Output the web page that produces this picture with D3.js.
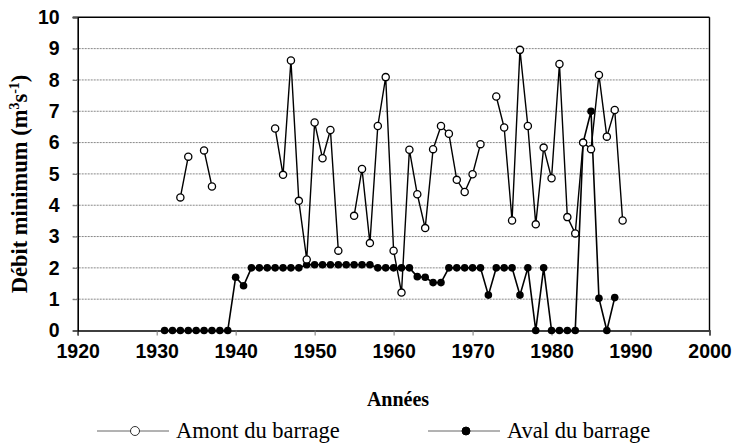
<!DOCTYPE html>
<html>
<head>
<meta charset="utf-8">
<script src="https://cdn.jsdelivr.net/npm/d3@7"></script>
<style>
  body { margin: 0; background: #fff; }
  svg { display: block; }
  .serif { font-family: "Liberation Serif", "DejaVu Serif", "Times New Roman", serif; }
  .sans { font-family: "Liberation Sans", Arial, sans-serif; }
</style>
</head>
<body>
<div id="chart"></div>
<script>
// years 1931..1989
const years = d3.range(1931, 1990);

// upstream of the dam (open circles), null = no data
const amont = [
  null, null, 4.25, 5.55, null, 5.75, 4.6, null, null,   // 1931-1939
  null, null, null, null, null, 6.45, 4.97, 8.62, 4.14, 2.27, // 1940-1949
  6.64, 5.5, 6.4, 2.55, null, 3.66, 5.16, 2.79, 6.53, 8.09,  // 1950-1959
  2.55, 1.21, 5.77, 4.35, 3.27, 5.79, 6.53, 6.28, 4.81, 4.42, // 1960-1969
  4.99, 5.95, null, 7.47, 6.48, 3.51, 8.96, 6.53, 3.39, 5.84, // 1970-1979
  4.86, 8.51, 3.62, 3.1, 6.0, 5.79, 8.16, 6.19, 7.04, 3.51   // 1980-1989
];

// downstream of the dam (filled circles)
const aval = [
  0, 0, 0, 0, 0, 0, 0, 0, 0,                          // 1931-1939
  1.7, 1.43, 2.0, 2.0, 2.0, 2.0, 2.0, 2.0, 2.0, 2.1,  // 1940-1949
  2.1, 2.1, 2.1, 2.1, 2.1, 2.1, 2.1, 2.1, 2.0, 2.0,   // 1950-1959
  2.0, 2.0, 2.0, 1.72, 1.7, 1.53, 1.53, 2.0, 2.0, 2.0, // 1960-1969
  2.0, 2.0, 1.13, 2.0, 2.0, 2.0, 1.13, 2.0, 0, 2.0,   // 1970-1979
  0, 0, 0, 0, 6.0, 7.0, 1.03, 0, 1.05, null           // 1980-1989
];

const xTicks = [1920, 1930, 1940, 1950, 1960, 1970, 1980, 1990, 2000];
const yTicks = [0, 1, 2, 3, 4, 5, 6, 7, 8, 9, 10];

const width = 735, height = 448;
const margin = { top: 17.3, right: 25.5, bottom: 117.5, left: 77.7 };
const w = width - margin.left - margin.right;
const h = height - margin.top - margin.bottom;

const svg = d3.select("#chart").append("svg")
  .attr("width", width)
  .attr("height", height);

const g = svg.append("g")
  .attr("transform", `translate(${margin.left},${margin.top})`);

const x = d3.scaleLinear().domain([1920, 2000]).range([0, w]);
const y = d3.scaleLinear().domain([0, 10]).range([h, 0]);

// horizontal grid
g.append("g")
  .selectAll("line")
  .data(yTicks.filter(d => d > 0 && d < 10))
  .join("line")
  .attr("x1", -5).attr("x2", w)
  .attr("y1", d => y(d)).attr("y2", d => y(d))
  .attr("stroke", "#888")
  .attr("stroke-width", 1)
  .attr("stroke-dasharray", "2,1");

// frame top / right
g.append("line").attr("x1", -5).attr("x2", w).attr("y1", 0).attr("y2", 0)
  .attr("stroke", "#000").attr("stroke-width", 1.6);
g.append("line").attr("x1", w).attr("x2", w).attr("y1", 0).attr("y2", h)
  .attr("stroke", "#000").attr("stroke-width", 1.4);

// x axis
const xAxis = g.append("g")
  .attr("transform", `translate(0,${h})`)
  .call(d3.axisBottom(x).tickValues(xTicks).tickFormat(d3.format("d")).tickSize(5).tickPadding(9));
xAxis.select(".domain").attr("stroke", "#000").attr("stroke-width", 1.6);
xAxis.selectAll(".tick line").attr("stroke", "#777");
xAxis.selectAll("text")
  .attr("class", "sans")
  .style("font-weight", "bold")
  .style("font-size", "19.5px")
  .attr("fill", "#000");

// y axis
const yAxis = g.append("g")
  .call(d3.axisLeft(y).tickValues(yTicks).tickSize(5).tickPadding(13));
yAxis.select(".domain").attr("stroke", "#000").attr("stroke-width", 1.6);
yAxis.selectAll(".tick line").attr("stroke", "#777");
yAxis.selectAll("text")
  .attr("class", "sans")
  .style("font-weight", "bold")
  .style("font-size", "19.5px")
  .attr("fill", "#000");

// lines
const line = d3.line()
  .defined(d => d.v != null)
  .x(d => x(d.year))
  .y(d => y(d.v));

const amontData = years.map((yr, i) => ({ year: yr, v: amont[i] }));
const avalData = years.map((yr, i) => ({ year: yr, v: aval[i] }));

g.append("path").datum(avalData)
  .attr("fill", "none").attr("stroke", "#000").attr("stroke-width", 1.6)
  .attr("d", line);

g.append("g").selectAll("circle")
  .data(avalData.filter(d => d.v != null))
  .join("circle")
  .attr("cx", d => x(d.year)).attr("cy", d => y(d.v))
  .attr("r", 3.8).attr("fill", "#000");

g.append("path").datum(amontData)
  .attr("fill", "none").attr("stroke", "#000").attr("stroke-width", 1.4)
  .attr("d", line);

g.append("g").selectAll("circle")
  .data(amontData.filter(d => d.v != null))
  .join("circle")
  .attr("cx", d => x(d.year)).attr("cy", d => y(d.v))
  .attr("r", 3.6).attr("fill", "#fff").attr("stroke", "#000").attr("stroke-width", 1.3);

// axis titles
svg.append("text")
  .attr("class", "serif")
  .attr("x", 398)
  .attr("y", 406)
  .attr("text-anchor", "middle")
  .style("font-weight", "bold")
  .style("font-size", "20px")
  .text("Années");

const yt = svg.append("text")
  .attr("class", "serif")
  .attr("transform", `translate(27,184) rotate(-90)`)
  .attr("text-anchor", "middle")
  .style("font-weight", "bold")
  .style("font-size", "22.5px");
yt.append("tspan").text("Débit minimum (m");
yt.append("tspan").attr("dy", -8).style("font-size", "14px").text("3");
yt.append("tspan").attr("dy", 8).text("s");
yt.append("tspan").attr("dy", -8).style("font-size", "14px").text("-1");
yt.append("tspan").attr("dy", 8).text(")");

// legend
const legend = [
  { name: "Amont du barrage", x0: 97, open: true },
  { name: "Aval du barrage", x0: 428, open: false }
];
const lg = svg.append("g").selectAll("g").data(legend).join("g")
  .attr("transform", d => `translate(${d.x0},431)`);
lg.append("line").attr("x1", 0).attr("x2", 72).attr("y1", 0).attr("y2", 0)
  .attr("stroke", "#555").attr("stroke-width", 0.9);
lg.append("circle").attr("cx", 38).attr("cy", 0)
  .attr("r", d => d.open ? 4.5 : 4)
  .attr("fill", d => d.open ? "#fff" : "#000")
  .attr("stroke", "#000").attr("stroke-width", d => d.open ? 0.8 : 1);
lg.append("text")
  .attr("class", "serif")
  .attr("x", 79).attr("y", 7)
  .style("font-size", "22.5px")
  .text(d => d.name);
</script>
</body>
</html>
